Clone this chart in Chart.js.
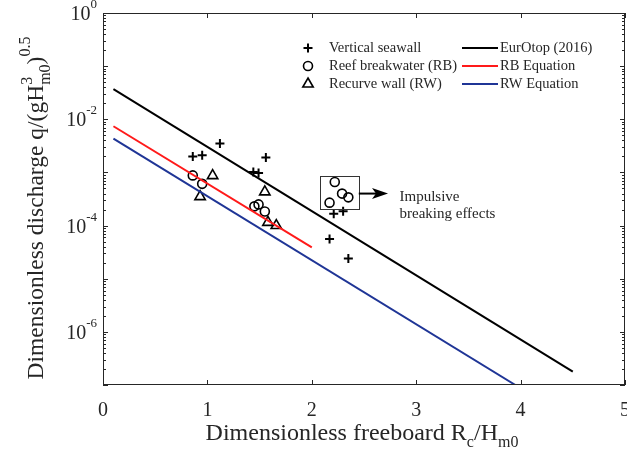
<!DOCTYPE html>
<html lang="en">
<head>
    <meta charset="UTF-8">
    <title>Overtopping discharge vs freeboard</title>
    <script src="https://cdn.jsdelivr.net/npm/chart.js"></script>
    <style>
        body {
            margin: 0;
            background-color: #ffffff;
        }
        #chart-container {
            width: 627px;
            height: 457px;
        }
    </style>
</head>
<body>
    <div id="chart-container">
        <canvas id="chart"></canvas>
    </div>

    <script>
        // measured points (Rc/Hm0, dimensionless discharge)
        const seawallX = [0.86, 0.95, 1.12, 1.44, 1.49, 1.56, 2.21, 2.30, 2.17, 2.35];
        const seawallY = [2.0e-3, 2.1e-3, 3.5e-3, 1.02e-3, 9.8e-4, 1.9e-3, 1.66e-4, 1.86e-4, 5.6e-5, 2.4e-5];

        const rbX = [0.86, 0.95, 1.45, 1.49, 1.55, 2.22, 2.29, 2.35, 2.17];
        const rbY = [8.8e-4, 6.1e-4, 2.3e-4, 2.5e-4, 1.84e-4, 6.6e-4, 4.0e-4, 3.4e-4, 2.7e-4];

        const rwX = [1.05, 0.93, 1.55, 1.58, 1.66];
        const rwY = [8.7e-4, 3.5e-4, 4.3e-4, 1.15e-4, 1.0e-4];

        // fitted lines, end points
        const eurotopX = [0.1, 4.5];
        const eurotopY = [0.0368, 1.78e-7];
        const rbEqX = [0.1, 2.0];
        const rbEqY = [0.0074, 3.9e-5];
        const rwEqX = [0.1, 3.95];
        const rwEqY = [0.00432, 1.0e-7];

        const xTickValues = [0, 1, 2, 3, 4, 5];
        const xTickLabels = ['0', '1', '2', '3', '4', '5'];
        const yTickValues = [1, 1e-2, 1e-4, 1e-6];
        const yTickExps = ['0', '-2', '-4', '-6'];

        const legendLeft = ['Vertical seawall', 'Reef breakwater (RB)', 'Recurve wall (RW)'];
        const legendRight = ['EurOtop (2016)', 'RB Equation', 'RW Equation'];
        const noteLines = ['Impulsive', 'breaking effects'];

        const SERIF = '"Liberation Serif", "DejaVu Serif", serif';
        const TEXT = '#262626';
        const RED = '#ff1a1a';
        const BLUE = '#1f3596';

        const toXY = (xs, ys) => xs.map((x, i) => ({ x: x, y: ys[i] }));

        // annotation: box round the impulsive points and arrow (data coords)
        const note = { x0: 2.08, x1: 2.45, y0: 2.07e-4, y1: 8.5e-4, arrowY: 4.0e-4, arrowX: 2.73, textX: 2.84 };

        function font(size) {
            return size + 'px ' + SERIF;
        }

        // draws text pieces with sub/superscripts
        function drawRich(ctx, parts, x, y, align) {
            const widths = parts.map(p => {
                ctx.font = font(p.size);
                if (p.stack) {
                    return Math.max(ctx.measureText(p.stack[0]).width, ctx.measureText(p.stack[1]).width);
                }
                return ctx.measureText(p.text).width;
            });
            const total = widths.reduce((a, b) => a + b, 0);
            let cx = x;
            if (align === 'center') cx = x - total / 2;
            if (align === 'right') cx = x - total;
            ctx.textAlign = 'left';
            ctx.textBaseline = 'alphabetic';
            parts.forEach((p, i) => {
                ctx.font = font(p.size);
                if (p.stack) {
                    ctx.fillText(p.stack[0], cx, y + p.dy[0]);
                    ctx.fillText(p.stack[1], cx, y + p.dy[1]);
                } else {
                    ctx.fillText(p.text, cx, y + (p.dy || 0));
                }
                cx += widths[i];
            });
        }

        function drawMarker(ctx, style, x, y) {
            ctx.beginPath();
            if (style === 'cross') {
                ctx.moveTo(x - 4.5, y); ctx.lineTo(x + 4.5, y);
                ctx.moveTo(x, y - 4.5); ctx.lineTo(x, y + 4.5);
            } else if (style === 'circle') {
                ctx.arc(x, y, 4.5, 0, Math.PI * 2);
            } else {
                ctx.moveTo(x, y - 6);
                ctx.lineTo(x + 5.2, y + 3);
                ctx.lineTo(x - 5.2, y + 3);
                ctx.closePath();
            }
            ctx.stroke();
        }

        const decorPlugin = {
            id: 'decor',
            afterDatasetsDraw(chart) {
                const ctx = chart.ctx;
                const a = chart.chartArea;
                const xs = chart.scales.x;
                const ys = chart.scales.y;
                ctx.save();

                // frame
                ctx.strokeStyle = '#262626';
                ctx.lineWidth = 1;
                ctx.strokeRect(a.left + 0.5, a.top + 0.5, a.right - a.left - 1, a.bottom - a.top - 1);

                // x ticks, inside, bottom and top
                ctx.beginPath();
                xTickValues.forEach(v => {
                    const px = Math.round(xs.getPixelForValue(v)) + 0.5;
                    ctx.moveTo(px, a.bottom); ctx.lineTo(px, a.bottom - 5);
                    ctx.moveTo(px, a.top); ctx.lineTo(px, a.top + 5);
                });
                // y ticks, log decades with minors
                for (let e = -7; e <= 0; e++) {
                    for (let k = 1; k <= 9; k++) {
                        const v = k * Math.pow(10, e);
                        if (v > 1 || v < 1e-7) continue;
                        const py = Math.round(ys.getPixelForValue(v)) + 0.5;
                        const len = k === 1 ? 5 : 3;
                        ctx.moveTo(a.left, py); ctx.lineTo(a.left + len, py);
                        ctx.moveTo(a.right, py); ctx.lineTo(a.right - len, py);
                    }
                }
                ctx.stroke();

                // tick labels
                ctx.fillStyle = TEXT;
                ctx.font = font(20);
                ctx.textAlign = 'center';
                ctx.textBaseline = 'alphabetic';
                xTickValues.forEach((v, i) => {
                    ctx.fillText(xTickLabels[i], xs.getPixelForValue(v), a.bottom + 31);
                });
                yTickValues.forEach((v, i) => {
                    const py = ys.getPixelForValue(v);
                    drawRich(ctx, [
                        { text: '10', size: 20 },
                        { text: yTickExps[i], size: 13, dy: -12 }
                    ], a.left - 6, py + 7, 'right');
                });

                // axis titles
                drawRich(ctx, [
                    { text: 'Dimensionless freeboard R', size: 24 },
                    { text: 'c', size: 16, dy: 7 },
                    { text: '/H', size: 24 },
                    { text: 'm0', size: 16, dy: 7 }
                ], (a.left + a.right) / 2 - 2, 440, 'center');

                ctx.save();
                ctx.translate(43, 208);
                ctx.rotate(-Math.PI / 2);
                drawRich(ctx, [
                    { text: 'Dimensionless discharge q/(gH', size: 23.5 },
                    { stack: ['3', 'm0'], size: 16, dy: [-11, 7] },
                    { text: ')', size: 23.5 },
                    { text: '0.5', size: 16, dy: -13 }
                ], 0, 0, 'center');
                ctx.restore();

                // legend
                ctx.font = font(14.5);
                ctx.textBaseline = 'middle';
                ctx.textAlign = 'left';
                const rows = [48, 66, 84];
                const styles = ['cross', 'circle', 'triangle'];
                const lineColors = ['#000000', RED, BLUE];
                rows.forEach((ry, i) => {
                    ctx.strokeStyle = '#000000';
                    ctx.lineWidth = i === 0 ? 2 : 1.6;
                    drawMarker(ctx, styles[i], 308, ry);
                    ctx.fillStyle = TEXT;
                    ctx.fillText(legendLeft[i], 329, ry);
                    ctx.strokeStyle = lineColors[i];
                    ctx.lineWidth = 2;
                    ctx.beginPath();
                    ctx.moveTo(462, ry); ctx.lineTo(498, ry);
                    ctx.stroke();
                    ctx.fillText(legendRight[i], 500, ry);
                });

                // impulsive breaking annotation
                const bx0 = xs.getPixelForValue(note.x0);
                const bx1 = xs.getPixelForValue(note.x1);
                const by0 = ys.getPixelForValue(note.y1);
                const by1 = ys.getPixelForValue(note.y0);
                ctx.strokeStyle = '#333333';
                ctx.lineWidth = 1;
                ctx.strokeRect(Math.round(bx0) + 0.5, Math.round(by0) + 0.5, Math.round(bx1 - bx0), Math.round(by1 - by0));
                const ay = ys.getPixelForValue(note.arrowY);
                const ax = xs.getPixelForValue(note.arrowX);
                ctx.strokeStyle = '#000000';
                ctx.lineWidth = 2;
                ctx.beginPath();
                ctx.moveTo(bx1, ay); ctx.lineTo(ax - 12, ay);
                ctx.stroke();
                ctx.fillStyle = '#000000';
                ctx.beginPath();
                ctx.moveTo(ax, ay);
                ctx.lineTo(ax - 16, ay - 5.5);
                ctx.lineTo(ax - 12, ay);
                ctx.lineTo(ax - 16, ay + 5.5);
                ctx.closePath();
                ctx.fill();
                ctx.fillStyle = TEXT;
                ctx.font = font(15);
                ctx.textBaseline = 'middle';
                const tx = xs.getPixelForValue(note.textX);
                ctx.fillText(noteLines[0], tx, ay + 3);
                ctx.fillText(noteLines[1], tx, ay + 20);

                ctx.restore();
            }
        };

        const ctx = document.getElementById('chart').getContext('2d');

        new Chart(ctx, {
            type: 'scatter',
            data: {
                datasets: [
                    {
                        label: 'EurOtop (2016)',
                        data: toXY(eurotopX, eurotopY),
                        showLine: true,
                        borderColor: '#000000',
                        borderWidth: 2,
                        pointRadius: 0
                    },
                    {
                        label: 'RB Equation',
                        data: toXY(rbEqX, rbEqY),
                        showLine: true,
                        borderColor: RED,
                        borderWidth: 2,
                        pointRadius: 0
                    },
                    {
                        label: 'RW Equation',
                        data: toXY(rwEqX, rwEqY),
                        showLine: true,
                        borderColor: BLUE,
                        borderWidth: 2,
                        pointRadius: 0
                    },
                    {
                        label: 'Vertical seawall',
                        data: toXY(seawallX, seawallY),
                        pointStyle: 'cross',
                        pointRadius: 4.5,
                        borderColor: '#000000',
                        borderWidth: 2
                    },
                    {
                        label: 'Reef breakwater (RB)',
                        data: toXY(rbX, rbY),
                        pointStyle: 'circle',
                        pointRadius: 4.5,
                        backgroundColor: 'rgba(0,0,0,0)',
                        borderColor: '#000000',
                        borderWidth: 1.6
                    },
                    {
                        label: 'Recurve wall (RW)',
                        data: toXY(rwX, rwY),
                        pointStyle: 'triangle',
                        pointRadius: 6,
                        backgroundColor: 'rgba(0,0,0,0)',
                        borderColor: '#000000',
                        borderWidth: 1.6
                    }
                ]
            },
            options: {
                responsive: true,
                maintainAspectRatio: false,
                animation: false,
                layout: {
                    autoPadding: false,
                    padding: { left: 103, right: 2, top: 13, bottom: 72 }
                },
                plugins: {
                    legend: { display: false },
                    tooltip: { enabled: false }
                },
                scales: {
                    x: { type: 'linear', min: 0, max: 5, display: false },
                    y: { type: 'logarithmic', min: 1e-7, max: 1, display: false }
                }
            },
            plugins: [decorPlugin]
        });
    </script>
</body>
</html>
